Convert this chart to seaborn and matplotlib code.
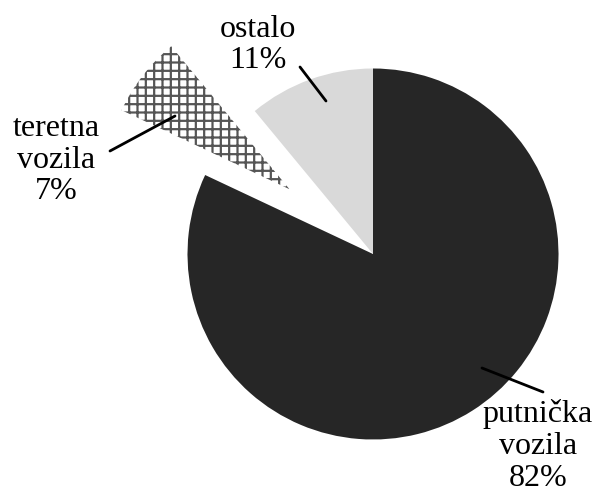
import matplotlib
matplotlib.use("Agg")
import matplotlib.pyplot as plt
import seaborn as sns

# data
labels = ["putnička\nvozila", "teretna\nvozila", "ostalo"]
shares = [82, 7, 11]
colors = ["#262626", "#ffffff", "#d9d9d9"]
explode = [0, 0.57, 0]  # fraction of radius

sns.set_theme(style="white")
plt.rcParams["font.family"] = "serif"
plt.rcParams["font.serif"] = ["Liberation Serif", "Times New Roman", "DejaVu Serif"]
plt.rcParams["hatch.linewidth"] = 1.6
plt.rcParams["hatch.color"] = "#555555"

radius = 185.5
fig = plt.figure(figsize=(6, 4.97), dpi=100)
ax = fig.add_axes([0, 0, 1, 1])

# pie() offsets exploded wedges in data units, so scale by the radius
wedges, _ = ax.pie(shares, colors=colors, explode=[e * radius for e in explode],
                   startangle=90, counterclock=False, radius=radius,
                   center=(373, 243), wedgeprops=dict(linewidth=0))
wedges[1].set_hatch("++")
wedges[1].set_edgecolor("#555555")
wedges[1].set_linewidth(0)

# pie() resets the limits, so set pixel-like limits afterwards
ax.set_xlim(0, 600)
ax.set_ylim(0, 497)
ax.set_aspect("equal")
ax.axis("off")

# labels with leader lines (pixel coords, y from top)
def H(y):
    return 497 - y

txt = dict(fontsize=23, ha="center", va="center", color="black", linespacing=1.12)
ax.text(258, H(45), f"{labels[2]}\n{shares[2]}%", **txt)
ax.plot([300, 326], [H(67), H(101)], color="black", lw=2)

ax.text(56, H(160), f"{labels[1]}\n{shares[1]}%", **txt)
ax.plot([110, 175], [H(151), H(116)], color="black", lw=2)

ax.text(538, H(446), f"{labels[0]}\n{shares[0]}%", **txt)
ax.plot([482, 543], [H(368), H(392)], color="black", lw=2)

fig.savefig("out.png", dpi=100, facecolor="white")
